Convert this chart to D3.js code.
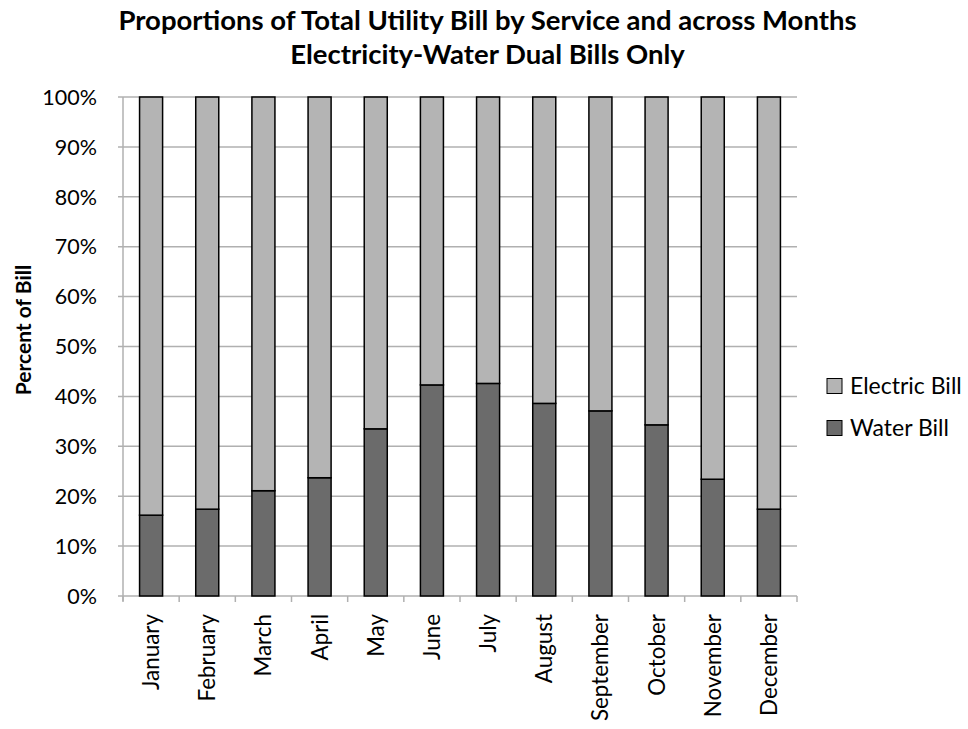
<!DOCTYPE html>
<html><head><meta charset="utf-8">
<script src="https://cdn.jsdelivr.net/npm/d3@7"></script>
<style>body{margin:0;background:#fff}svg{display:block}text{font-family:Lato,"Open Sans",sans-serif}</style>
</head><body>
<svg id="c" width="968" height="729"></svg>
<script>
const months = ["January","February","March","April","May","June","July","August","September","October","November","December"];
const waterPct = [16.2,17.4,21.1,23.7,33.5,42.3,42.6,38.6,37.1,34.3,23.4,17.4];
const electricPct = waterPct.map(v => 100 - v);
const yTicks = [0,10,20,30,40,50,60,70,80,90,100];
const seriesNames = ["Water Bill","Electric Bill"];
const colors = {"Water Bill":"#6b6b6b","Electric Bill":"#b4b4b4"};

const svg = d3.select("#c");
const L = 123, R = 797, T = 97, B = 596;
const x = d3.scaleBand().domain(months).range([L,R]).paddingInner(0.59).paddingOuter(0.295);
const y = d3.scaleLinear().domain([0,100]).range([B,T]);

// grid
svg.append("g").selectAll("line").data(yTicks).join("line")
  .attr("x1",L-5).attr("x2",R).attr("y1",d=>y(d)).attr("y2",d=>y(d))
  .attr("stroke","#b0b0b0").attr("stroke-width",1.5);
svg.append("line").attr("x1",L).attr("x2",L).attr("y1",T).attr("y2",B+5).attr("stroke","#b0b0b0").attr("stroke-width",1.5);
const xb = d3.range(months.length+1).map(i => L + i*(R-L)/months.length);
svg.append("g").selectAll("line").data(xb).join("line")
  .attr("x1",d=>d).attr("x2",d=>d).attr("y1",B).attr("y2",B+6).attr("stroke","#b0b0b0").attr("stroke-width",1.5);

// y labels
svg.append("g").selectAll("text").data(yTicks).join("text")
  .attr("x",L-26).attr("y",d=>y(d)).attr("dy","0.36em").attr("text-anchor","end")
  .attr("font-size",21.5).attr("fill","#000").text(d=>d+"%");

// stacked bars
const rows = months.map((m,i)=>({month:m,"Water Bill":waterPct[i],"Electric Bill":electricPct[i]}));
const stack = d3.stack().keys(seriesNames)(rows);
svg.append("g").selectAll("g").data(stack).join("g").attr("fill",d=>colors[d.key])
  .selectAll("rect").data(d=>d).join("rect")
  .attr("x",d=>x(d.data.month)).attr("width",x.bandwidth())
  .attr("y",d=>y(d[1])).attr("height",d=>y(d[0])-y(d[1]))
  .attr("stroke","#000").attr("stroke-width",1.5);

// month labels
svg.append("g").selectAll("text").data(months).join("text")
  .attr("transform",d=>`translate(${x(d)+x.bandwidth()/2},${B+18}) rotate(-90)`)
  .attr("text-anchor","end").attr("dy","0.36em").attr("font-size",22.4).text(d=>d);

// y title
svg.append("text").attr("transform","translate(31,330) rotate(-90)").attr("text-anchor","middle")
  .attr("font-size",21).attr("font-weight","bold").text("Percent of Bill");

// title
svg.append("text").attr("x",487.5).attr("y",30).attr("text-anchor","middle").attr("font-size",27.5).attr("font-weight","bold")
  .text("Proportions of Total Utility Bill by Service and across Months");
svg.append("text").attr("x",487.5).attr("y",64).attr("text-anchor","middle").attr("font-size",27.5).attr("font-weight","bold")
  .text("Electricity-Water Dual Bills Only");

// legend
const leg = svg.append("g").selectAll("g").data(["Electric Bill","Water Bill"]).join("g")
  .attr("transform",(d,i)=>`translate(827,${386+i*42})`);
leg.append("rect").attr("x",0).attr("y",-7.5).attr("width",15).attr("height",15)
  .attr("fill",d=>colors[d]).attr("stroke","#000").attr("stroke-width",1);
leg.append("text").attr("x",23).attr("dy","0.36em").attr("font-size",23).text(d=>d);
</script>
</body></html>
